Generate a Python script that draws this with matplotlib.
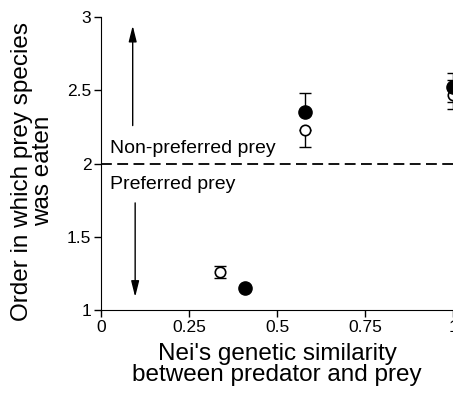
import matplotlib
matplotlib.use('Agg')
import matplotlib.pyplot as plt

plt.rcParams['font.family'] = ['Liberation Sans', 'DejaVu Sans']

# open circles
open_x = [0.337, 0.58, 1.0]
open_y = [1.26, 2.23, 2.47]
open_lo = [0.04, 0.12, 0.1]
open_hi = [0.04, 0.0, 0.1]
# filled circles
fill_x = [0.41, 0.58, 1.0]
fill_y = [1.15, 2.35, 2.52]
fill_lo = [0.0, 0.0, 0.1]
fill_hi = [0.0, 0.13, 0.1]

xticks = [0, 0.25, 0.5, 0.75, 1]
xticklabels = ['0', '0.25', '0.5', '0.75', '1']
yticks = [1, 1.5, 2, 2.5, 3]
yticklabels = ['1', '1.5', '2', '2.5', '3']


def main():
    fig = plt.figure(figsize=(4.53, 4.0), dpi=100)
    ax = fig.add_axes([0.223, 0.225, 0.777, 0.7325])

    ax.axhline(2, color='black', linestyle=(0, (6, 3)), linewidth=1.3)

    ax.errorbar(open_x, open_y, yerr=[open_lo, open_hi], fmt='none',
                ecolor='black', elinewidth=1, capsize=4, clip_on=False)
    ax.errorbar(fill_x, fill_y, yerr=[fill_lo, fill_hi], fmt='none',
                ecolor='black', elinewidth=1, capsize=4, clip_on=False)
    ax.plot(open_x, open_y, 'o', mfc='white', mec='black', mew=1.2, ms=7.5, zorder=3)
    ax.plot(fill_x, fill_y, 'o', color='black', ms=9.5, zorder=4)

    arrow = dict(arrowstyle='-|>,head_length=0.8,head_width=0.2', color='black',
                 lw=1, mutation_scale=12)
    ax.annotate('', xy=(0.09, 2.96), xytext=(0.09, 2.24), arrowprops=arrow)
    ax.annotate('', xy=(0.097, 1.07), xytext=(0.097, 1.75), arrowprops=arrow)
    ax.text(0.025, 2.07, 'Non-preferred prey', fontsize=14, va='baseline')
    ax.text(0.025, 1.86, 'Preferred prey', fontsize=14, va='center')

    ax.set_xlim(0, 1)
    ax.set_ylim(1, 3)
    ax.set_xticks(xticks)
    ax.set_xticklabels(xticklabels)
    ax.set_yticks(yticks)
    ax.set_yticklabels(yticklabels)
    ax.tick_params(direction='out', length=5, width=1, labelsize=12.5, pad=2)
    ax.spines['top'].set_visible(False)
    ax.spines['right'].set_visible(False)
    ax.set_xlabel("Nei's genetic similarity\nbetween predator and prey", fontsize=17.5,
                  linespacing=0.95, labelpad=6)
    ax.set_ylabel('Order in which prey species\nwas eaten', fontsize=17.5,
                  linespacing=0.95)
    ax.yaxis.set_label_coords(-0.133, 0.474)

    fig.savefig('out.png', dpi=100)


if __name__ == '__main__':
    main()
